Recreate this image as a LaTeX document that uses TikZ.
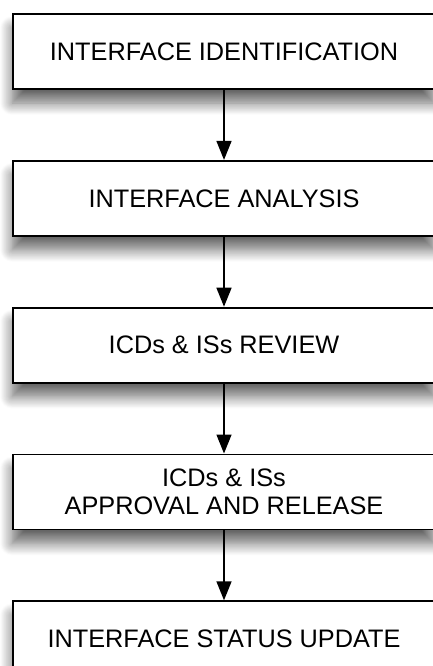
\documentclass[tikz,border=0pt]{standalone}
\usepackage{fontspec}
\setmainfont{Liberation Sans}
\usepackage{tikz}
\usetikzlibrary{arrows.meta, positioning, shadows.blur}
\definecolor{boxline}{RGB}{0,0,0}
\tikzset{
  stepbox/.style={rectangle, draw=boxline, line width=1.8pt, fill=white,
    minimum width=422pt, minimum height=75pt, inner sep=0pt,
    align=center, font=\fontsize{25.3}{28.5}\selectfont,
    blur shadow={shadow xshift=-1pt, shadow yshift=-14pt,
      shadow blur radius=12pt, shadow blur steps=14, shadow opacity=60}},
  flowarrow/.style={-{Triangle[length=19pt, width=15pt]}, line width=1.5pt},
}
\begin{document}
\begin{tikzpicture}[node distance=70pt, x=1pt, y=1pt]
  \useasboundingbox (0,0) rectangle (432,-666);
  % process steps
  \node[stepbox] (ident) at (224,-51.5) {INTERFACE IDENTIFICATION};
  \node[stepbox, below=of ident] (analysis) {INTERFACE ANALYSIS};
  \node[stepbox, below=of analysis] (review) {ICDs \& ISs REVIEW};
  \node[stepbox, below=of review] (release) {ICDs \& ISs\\APPROVAL AND RELEASE};
  \node[stepbox, below=of release] (status) {INTERFACE STATUS UPDATE};
  % connectors
  \draw[flowarrow] (ident) -- (analysis);
  \draw[flowarrow] (analysis) -- (review);
  \draw[flowarrow] (review) -- (release);
  \draw[flowarrow] (release) -- (status);
\end{tikzpicture}
\end{document}
